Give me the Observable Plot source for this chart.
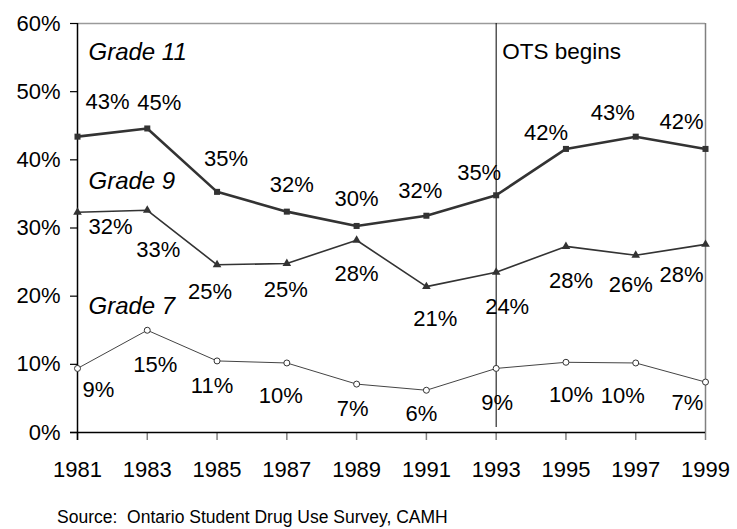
<!DOCTYPE html>
<html>
<head>
<meta charset="utf-8">
<script src="https://cdn.jsdelivr.net/npm/d3@7"></script>
<script src="https://cdn.jsdelivr.net/npm/@observablehq/plot@0.6"></script>
<style>
  html, body { margin: 0; padding: 0; background: #fff; }
  #wrap { position: relative; width: 737px; height: 529px; overflow: hidden; }
  #caption { position: absolute; left: 57px; top: 507px; font-family: "Liberation Sans", Arial, sans-serif; font-size: 17.5px; line-height: 20px; white-space: pre; color: #000; }
</style>
</head>
<body>
<div id="wrap"><div id="chart"></div><div id="caption">Source:  Ontario Student Drug Use Survey, CAMH</div></div>
<script>
// ---- data ----
const years = [1981, 1983, 1985, 1987, 1989, 1991, 1993, 1995, 1997, 1999];
const grade11 = [43.4, 44.6, 35.3, 32.4, 30.3, 31.8, 34.8, 41.6, 43.4, 41.6];
const grade9  = [32.3, 32.6, 24.6, 24.8, 28.2, 21.4, 23.5, 27.3, 26.0, 27.6];
const grade7  = [9.4, 15.0, 10.5, 10.2, 7.1, 6.2, 9.4, 10.3, 10.2, 7.4];
const labels11 = ["43%", "45%", "35%", "32%", "30%", "32%", "35%", "42%", "43%", "42%"];
const labels9  = ["32%", "33%", "25%", "25%", "28%", "21%", "24%", "28%", "26%", "28%"];
const labels7  = ["9%", "15%", "11%", "10%", "7%", "6%", "9%", "10%", "10%", "7%"];
const yTicks = [0, 10, 20, 30, 40, 50, 60];
const otsYear = 1993;
const otsText = "OTS begins";
const gradeNames = ["Grade 11", "Grade 9", "Grade 7"];
const gradeNameAt = [55.7, 36.9, 18.5];
const otsTextAt = 55.9;

// ---- label nudges (pixels, layout only) ----
const nudge11 = [[30,-35],[12,-26],[9,-33],[5,-27],[0,-27],[-6,-25],[-17,-22],[-20,-16],[-23,-24],[-24,-27]];
const nudge9  = [[33,15],[11,40],[-7,27],[-1,27],[0,34],[9,32],[11,35],[5,35],[-5,30],[-24,31]];
const nudge7  = [[21,22],[8,35],[-5,25],[-6,33],[-4,25],[-5,24],[1,35],[5,33],[-13,33],[-18,21]];

const rows = (vals, labs) => years.map((year, i) => ({year, value: vals[i], label: labs[i]}));
const d11 = rows(grade11, labels11);
const d9 = rows(grade9, labels9);
const d7 = rows(grade7, labels7);

const labelMarks = (data, nudges) => data.map((d, i) =>
  Plot.text([d], {x: "year", y: "value", text: "label", dx: nudges[i][0], dy: nudges[i][1],
    textAnchor: "middle", lineAnchor: "middle", fontSize: 22, fill: "#000"}));

const font = "'Liberation Sans', Arial, sans-serif";

const chart = Plot.plot({
  width: 737,
  height: 495,
  marginLeft: 77,
  marginRight: 32,
  marginTop: 23,
  marginBottom: 63,
  x: {domain: [years[0], years[years.length - 1]], label: null},
  y: {domain: [yTicks[0], yTicks[yTicks.length - 1]], label: null},
  style: {fontFamily: font, fontSize: "22px", color: "#000", background: "#fff", overflow: "visible"},
  marks: [
    // frame
    Plot.ruleY([yTicks[yTicks.length - 1]], {stroke: "#9a9a9a", strokeWidth: 1.5}),
    Plot.ruleX([years[years.length - 1]], {stroke: "#808080", strokeWidth: 1.5}),
    Plot.ruleX([otsYear], {stroke: "#000", strokeWidth: 1, insetBottom: 5}),
    // axes
    Plot.axisX({ticks: years, tickSize: 8, tickPadding: 21, tickFormat: d => String(d), label: null,
      stroke: "#808080", strokeWidth: 1.5, fill: "#000", fontSize: 22}),
    Plot.axisY({ticks: yTicks, tickSize: 7, tickPadding: 10, tickFormat: d => d + "%", label: null,
      stroke: "#000", strokeWidth: 1.2, fill: "#000", fontSize: 22}),
    Plot.ruleX([years[0]], {stroke: "#000", strokeWidth: 1.5, insetBottom: -8}),
    Plot.ruleY([yTicks[0]], {stroke: "#000", strokeWidth: 1.5, insetLeft: -7}),
    // series
    Plot.line(d7, {x: "year", y: "value", stroke: "#444", strokeWidth: 1}),
    Plot.dot(d7, {x: "year", y: "value", symbol: "circle", r: 3, fill: "#fff", stroke: "#333", strokeWidth: 1}),
    Plot.line(d9, {x: "year", y: "value", stroke: "#333", strokeWidth: 1.6}),
    Plot.dot(d9, {x: "year", y: "value", symbol: "triangle", r: 3.2, fill: "#333", stroke: "none"}),
    Plot.line(d11, {x: "year", y: "value", stroke: "#333", strokeWidth: 2.6}),
    Plot.dot(d11, {x: "year", y: "value", symbol: "square", r: 3.4, fill: "#333", stroke: "none"}),
    // value labels
    labelMarks(d11, nudge11),
    labelMarks(d9, nudge9),
    labelMarks(d7, nudge7),
    // annotations
    Plot.text(gradeNames.map((name, i) => ({name, y: gradeNameAt[i]})), {
      x: () => years[0], y: "y", text: "name", dx: 11, textAnchor: "start", lineAnchor: "middle",
      fontSize: 24, fontStyle: "italic", fill: "#000"}),
    Plot.text([{t: otsText, y: otsTextAt}], {
      x: () => otsYear, y: "y", text: "t", dx: 6, textAnchor: "start", lineAnchor: "middle",
      fontSize: 22.5, fill: "#000"})
  ]
});
document.getElementById("chart").appendChild(chart);
</script>
</body>
</html>
